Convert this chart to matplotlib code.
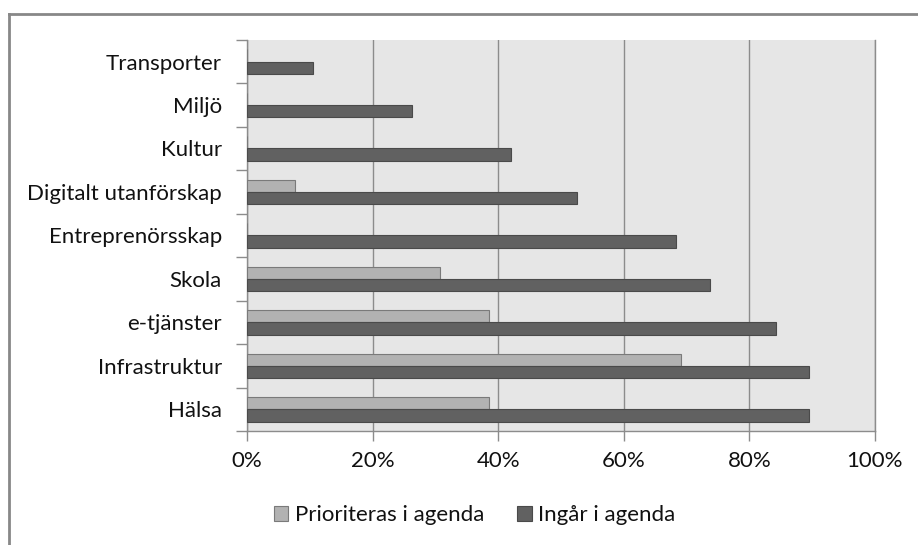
import matplotlib.pyplot as plt
import matplotlib.ticker as mticker
from matplotlib.lines import Line2D
import numpy as np

plt.rcParams['font.family'] = ['Lato', 'DejaVu Sans']

# bottom to top
categories = ["Hälsa", "Infrastruktur", "e-tjänster", "Skola", "Entreprenörsskap",
              "Digitalt utanförskap", "Kultur", "Miljö", "Transporter"]
prioriteras = [38.5, 69.2, 38.5, 30.8, 0, 7.7, 0, 0, 0]
ingar = [89.5, 89.5, 84.2, 73.7, 68.4, 52.6, 42.1, 26.3, 10.5]

fig = plt.figure(figsize=(9.18, 5.45), dpi=100)
ax = fig.add_axes([0.269, 0.209, 0.684, 0.718])
ax.set_facecolor("#e6e6e6")

y = np.arange(len(categories))
h = 0.28
ax.barh(y + h / 2, prioriteras, height=h, color="#b2b2b2", edgecolor="#7a7a7a",
        linewidth=0.8, label="Prioriteras i agenda", zorder=3)
ax.barh(y - h / 2, ingar, height=h, color="#616161", edgecolor="#4a4a4a",
        linewidth=0.8, label="Ingår i agenda", zorder=3)

ax.set_xlim(0, 100)
ax.set_ylim(-0.5, len(categories) - 0.5)
ax.xaxis.set_major_locator(mticker.MultipleLocator(20))
ax.xaxis.set_major_formatter(mticker.FuncFormatter(lambda v, p: f"{v:.0f}%"))
ax.grid(axis="x", color="#8c8c8c", linewidth=1, zorder=1)

ax.set_yticks(y)
ax.set_yticklabels(categories)
ax.set_yticks(np.arange(-0.5, len(categories)), minor=True)
ax.tick_params(axis="y", which="major", length=0, pad=18, labelsize=16, labelcolor="#111111")
ax.tick_params(axis="y", which="minor", length=8, color="#8c8c8c", width=1)
ax.tick_params(axis="x", length=7, color="#8c8c8c", width=1, labelsize=16, pad=7,
               labelcolor="#111111")

ax.spines["top"].set_visible(False)
for s in ["left", "bottom", "right"]:
    ax.spines[s].set_color("#8c8c8c")
    ax.spines[s].set_linewidth(1)

leg = fig.legend(loc="center", bbox_to_anchor=(0.517, 0.055), ncol=2, frameon=False,
                 fontsize=16, handlelength=0.65, handleheight=0.65, handletextpad=0.3,
                 columnspacing=1.5, labelcolor="#111111")

# outer frame
fig.add_artist(Line2D([9 / 918, 1], [1 - 14 / 545, 1 - 14 / 545], color="#888888", lw=2))
fig.add_artist(Line2D([9 / 918, 9 / 918], [0, 1 - 14 / 545], color="#888888", lw=2))

fig.savefig("out.png", dpi=100)
